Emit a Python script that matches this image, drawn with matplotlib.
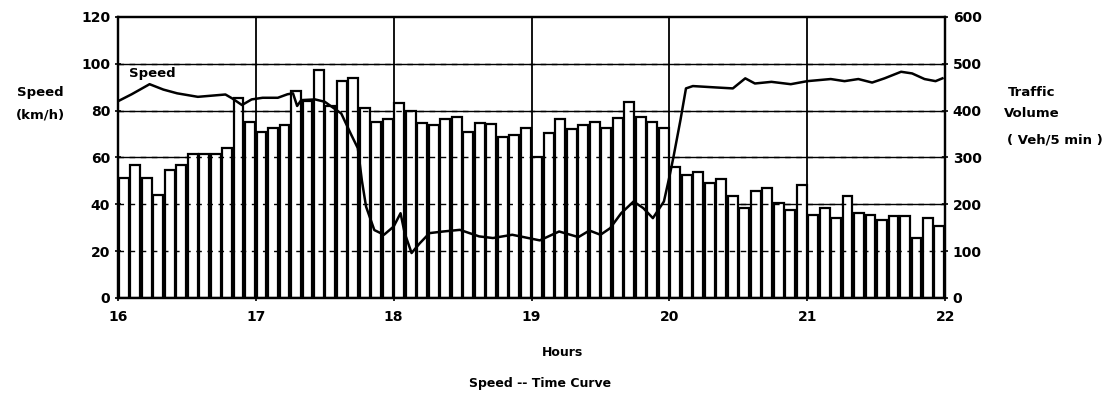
import numpy as np
import matplotlib.pyplot as plt

# traffic volume per 5 min interval, 16:00 - 22:00 (veh/5 min)
volume = [
    257, 284, 257, 219, 273, 283, 308, 308, 308, 320, 428, 376,
    355, 362, 369, 442, 420, 486, 410, 463, 469, 405, 376, 383,
    416, 400, 373, 369, 383, 387, 355, 374, 371, 344, 348, 362,
    300, 352, 383, 360, 369, 376, 364, 385, 419, 386, 376, 364,
    280, 263, 270, 245, 254, 217, 192, 229, 234, 202, 187, 241,
    178, 192, 170, 217, 181, 178, 167, 174, 175, 129, 170, 153,
]

# speed curve (hours, km/h)
speed_t = [16.0, 16.1, 16.23, 16.33, 16.43, 16.58, 16.78, 16.83, 16.9, 16.97,
           17.05, 17.16, 17.23, 17.27, 17.3, 17.33, 17.43, 17.5, 17.62, 17.69,
           17.74, 17.77, 17.8, 17.86, 17.93, 18.0, 18.05, 18.08, 18.13, 18.19,
           18.26, 18.36, 18.48, 18.62, 18.72, 18.86, 19.06, 19.2, 19.34, 19.42,
           19.5, 19.57, 19.65, 19.74, 19.81, 19.88, 19.96, 20.0, 20.03, 20.08,
           20.12, 20.17, 20.34, 20.46, 20.55, 20.62, 20.74, 20.88, 21.0, 21.17,
           21.27, 21.37, 21.47, 21.56, 21.68, 21.76, 21.85, 21.93, 21.98]
speed_v = [84, 87, 91.3, 89, 87.4, 85.9, 86.9, 85.2, 82.4, 84.8,
           85.5, 85.5, 87, 87.4, 82, 84.5, 84.8, 83.8, 78.8, 70,
           64, 50, 39, 29, 27, 30.5, 36.2, 27.7, 19.2, 23.4,
           27.7, 28.4, 29.1, 26.3, 25.6, 27, 24.6, 28.4, 26, 28.8,
           27, 29.8, 36.2, 41.2, 38.4, 34.1, 41.2, 51.8, 60.4, 76,
           89.5, 90.5, 89.9, 89.5, 93.8, 91.6, 92.3, 91.3, 92.6, 93.5,
           92.6, 93.5, 92, 93.8, 96.6, 95.9, 93.5, 92.6, 93.8]

hours = [16, 17, 18, 19, 20, 21, 22]

fig = plt.figure(figsize=(11.12, 3.95), dpi=100)
ax = fig.add_axes([0.106, 0.2456, 0.744, 0.7114])
ax2 = ax.twinx()

# right axis holds the bars, left axis the speed curve
ax2.set_zorder(1)
ax.set_zorder(2)
ax.patch.set_visible(False)

x = 16 + (np.arange(len(volume)) + 0.5) / 12
ax2.bar(x, volume, width=0.072, color='white', edgecolor='black',
        linewidth=1.6, zorder=2)
for h in np.arange(100, 600, 100):
    ax2.axhline(h, color='black', lw=1.0, zorder=1)
    ax2.axhline(h, color='black', lw=1.0, dashes=(4, 4), zorder=3)
for h in hours[1:-1]:
    ax2.axvline(h, color='black', lw=1.3, zorder=1)

ax.plot(speed_t, speed_v, color='black', lw=1.8, zorder=4)
ax.text(16.08, 93, 'Speed', fontsize=9.5, fontweight='bold', ha='left', va='bottom')

ax.set_xlim(16, 22)
ax.set_ylim(0, 120)
ax2.set_ylim(0, 600)
ax.set_xticks(hours)
ax.set_xticklabels([str(h) for h in hours], fontsize=10, fontweight='bold')
ax.set_yticks(range(0, 121, 20))
ax.set_yticklabels([str(v) for v in range(0, 121, 20)], fontsize=10, fontweight='bold')
ax2.set_yticks(range(0, 601, 100))
ax2.set_yticklabels([str(v) for v in range(0, 601, 100)], fontsize=10, fontweight='bold')
ax.tick_params(axis='both', direction='inout', length=5, width=1.2, pad=3)
ax2.tick_params(axis='y', direction='inout', length=5, width=1.2, pad=3)
ax.tick_params(axis='x', pad=6)
for a in (ax, ax2):
    for s in a.spines.values():
        s.set_linewidth(1.6)

fig.text(0.036, 0.765, 'Speed', fontsize=9.5, fontweight='bold', ha='center', va='center')
fig.text(0.036, 0.71, '(km/h)', fontsize=9.5, fontweight='bold', ha='center', va='center')
fig.text(0.928, 0.765, 'Traffic', fontsize=9.5, fontweight='bold', ha='center', va='center')
fig.text(0.928, 0.713, 'Volume', fontsize=9.5, fontweight='bold', ha='center', va='center')
fig.text(0.949, 0.645, '( Veh/5 min )', fontsize=9.5, fontweight='bold', ha='center', va='center')
fig.text(0.506, 0.108, 'Hours', fontsize=9, fontweight='bold', ha='center', va='center')
fig.text(0.486, 0.03, 'Speed -- Time Curve', fontsize=9, fontweight='bold', ha='center', va='center')

fig.savefig('out.png', dpi=100)
